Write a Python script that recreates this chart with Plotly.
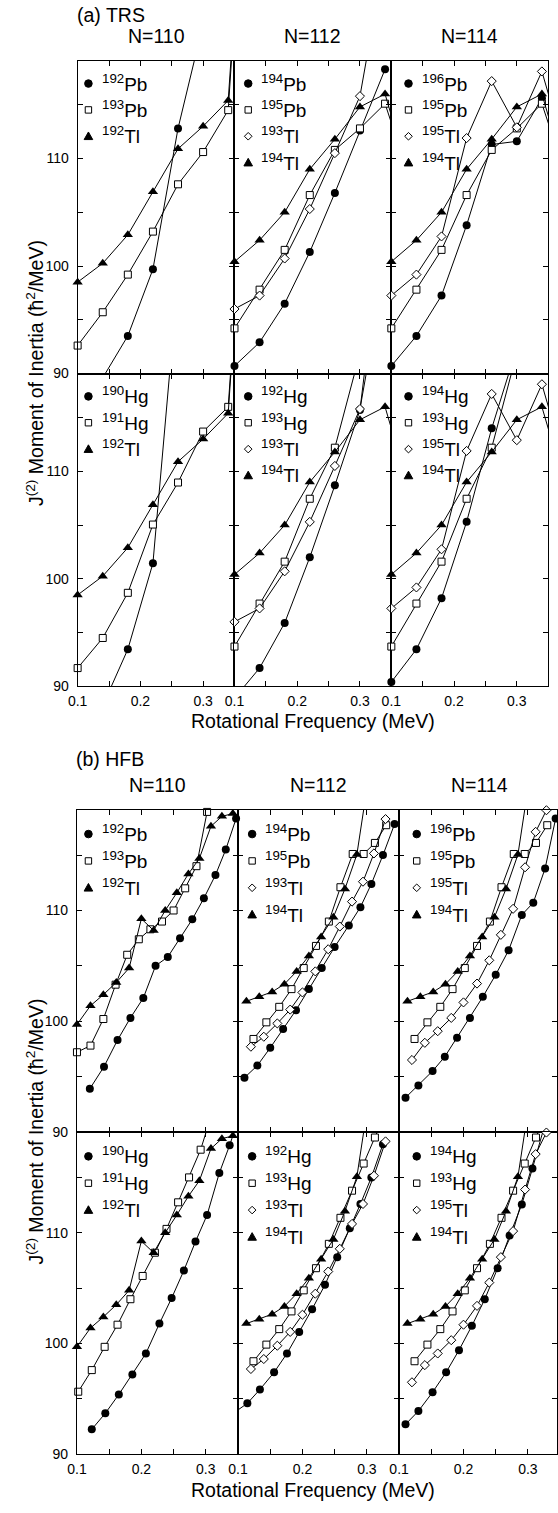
import plotly.graph_objects as go

W, H = 558, 1513
FONT = "Liberation Sans, Arial, Helvetica, sans-serif"

# ---------------- TRS data (rotational frequency grid, MeV) ----------------
TRS_OMEGA = [0.10, 0.14, 0.18, 0.22, 0.26, 0.30, 0.34, 0.38]
TRS_PB192 = [None, 89.6, 93.5, 99.7, 112.8, 122.5, None, None]
TRS_PB193 = [92.6, 95.7, 99.2, 103.2, 107.6, 110.6, 114.5, 150.0]
TRS_TL192 = [98.5, 100.25, 102.9, 106.9, 110.9, 113.0, 115.4, 150.0]
TRS_PB194 = [90.7, 92.9, 96.5, 101.3, 106.8, 112.6, 118.3, None]
TRS_PB195 = [94.2, 97.8, 101.5, 106.6, 110.8, 112.8, 115.1, 108.0]
TRS_TL193 = [96.0, 97.25, 100.7, 105.3, 110.5, 115.8, 129.0, None]
TRS_TL194 = [100.4, 102.4, 105.0, 109.0, 111.8, 114.8, 116.0, 108.0]
TRS_PB196 = [90.7, 93.5, 97.25, 103.8, 111.3, 111.6, 115.6, None]
TRS_TL195 = [97.25, 99.2, 102.75, 111.9, 117.2, 112.9, 118.1, 110.0]
TRS_HG190 = [None, 88.2, 93.45, 101.45, 128.0, None, None, None]
TRS_HG191 = [91.7, 94.5, 98.7, 105.05, 108.96, 113.7, 116.0, 150.0]
TRS_HG192 = [88.9, 91.7, 95.9, 102.0, 108.7, 115.7, 135.0, None]
TRS_HG193 = [93.7, 97.7, 101.6, 107.45, 112.2, 121.0, None, None]
TRS_HG194 = [90.4, 93.45, 98.2, 105.3, 114.0, 121.5, None, None]

# ---------------- HFB data ----------------
HFB_TL192_X = [0.100, 0.121, 0.141, 0.161, 0.181, 0.200, 0.219, 0.237, 0.255, 0.273, 0.290, 0.308, 0.325, 0.342]
HFB_TL192_Y = [99.7, 101.4, 102.4, 103.5, 104.8, 109.25, 108.2, 110.0, 111.6, 113.3, 114.7, 117.6, 118.5, 118.75]
HFB_PB192_X = [0.120, 0.142, 0.163, 0.183, 0.203, 0.222, 0.241, 0.260, 0.279, 0.297, 0.315, 0.331, 0.347]
HFB_PB192_Y = [93.9, 95.9, 98.3, 100.3, 102.1, 105.0, 105.8, 107.5, 109.2, 111.1, 113.2, 115.5, 118.3]
HFB_PB193_X = [0.100, 0.121, 0.141, 0.160, 0.178, 0.196, 0.214, 0.232, 0.250, 0.268, 0.2855, 0.302]
HFB_PB193_Y = [97.2, 97.8, 100.2, 103.3, 106.0, 107.4, 108.3, 109.0, 110.0, 112.0, 114.0, 118.9]
HFB_HG190_X = [0.123, 0.144, 0.165, 0.186, 0.207, 0.228, 0.247, 0.266, 0.284, 0.302, 0.321, 0.337, 0.352]
HFB_HG190_Y = [92.25, 93.7, 95.4, 97.2, 99.1, 101.8, 104.1, 106.6, 109.2, 111.6, 115.4, 117.9, 120.5]
HFB_HG191_X = [0.102, 0.123, 0.143, 0.163, 0.183, 0.202, 0.221, 0.239, 0.257, 0.274, 0.292, 0.308]
HFB_HG191_Y = [95.65, 97.6, 99.7, 101.7, 104.0, 106.1, 108.2, 110.35, 112.75, 115.0, 117.5, 120.5]
HFB_TL194_X = [0.113, 0.133, 0.153, 0.172, 0.191, 0.210, 0.229, 0.248, 0.266, 0.2845, 0.300]
HFB_TL194_Y = [101.8, 102.2, 102.65, 103.35, 104.5, 105.9, 107.6, 109.4, 111.95, 115.05, 121.0]
HFB_PB195_X = [0.124, 0.144, 0.164, 0.183, 0.202, 0.221, 0.241, 0.259, 0.278, 0.295, 0.3125, 0.330]
HFB_PB195_Y = [98.4, 99.9, 101.3, 102.9, 104.8, 106.8, 109.0, 112.1, 115.1, 115.1, 116.1, 117.7]
HFB_TL193_X = [0.120, 0.140, 0.161, 0.181, 0.200, 0.220, 0.240, 0.258, 0.277, 0.294, 0.311, 0.329]
HFB_TL193_Y = [97.7, 98.6, 99.8, 101.05, 102.6, 104.5, 106.5, 108.55, 110.8, 112.6, 115.15, 118.25]
HFB_PB194_X = [0.110, 0.130, 0.150, 0.170, 0.190, 0.210, 0.230, 0.250, 0.272, 0.290, 0.307, 0.325, 0.343]
HFB_PB194_Y = [94.9, 96.0, 97.6, 99.3, 101.0, 102.9, 104.8, 106.7, 108.65, 110.3, 112.4, 115.0, 117.8]
HFB_HG192_X = [0.095, 0.1145, 0.134, 0.156, 0.176, 0.195, 0.215, 0.235, 0.254, 0.2735, 0.290, 0.307, 0.325]
HFB_HG192_Y = [93.8, 94.6, 95.85, 97.4, 99.1, 101.05, 103.1, 105.3, 107.8, 110.4, 112.6, 115.0, 118.0]
HFB_HG193_X = [0.124, 0.144, 0.164, 0.183, 0.202, 0.221, 0.241, 0.259, 0.277, 0.295, 0.3125, 0.330]
HFB_HG193_Y = [98.4, 99.9, 101.3, 102.9, 104.8, 106.8, 109.0, 111.35, 113.8, 116.25, 118.6, 121.0]
HFB_PB196_X = [0.110, 0.130, 0.152, 0.171, 0.190, 0.210, 0.230, 0.250, 0.270, 0.2905, 0.3083, 0.3267, 0.343]
HFB_PB196_Y = [93.1, 94.2, 95.5, 96.8, 98.5, 100.3, 102.2, 104.2, 106.4, 109.6, 110.7, 113.8, 118.3]
HFB_TL195_X = [0.120, 0.140, 0.160, 0.181, 0.200, 0.221, 0.240, 0.258, 0.277, 0.2956, 0.312, 0.3287]
HFB_TL195_Y = [96.5, 98.05, 99.1, 100.3, 101.7, 103.4, 105.5, 107.8, 110.15, 113.9, 117.1, 119.05]
HFB_HG194_X = [0.110, 0.130, 0.152, 0.173, 0.193, 0.213, 0.233, 0.253, 0.2716, 0.2905, 0.307, 0.325]
HFB_HG194_Y = [92.7, 93.9, 95.6, 97.4, 99.4, 101.6, 104.0, 106.8, 109.75, 112.55, 115.8, 119.5]

# ---------------- panel contents ----------------
N_LABELS = ["N=110", "N=112", "N=114"]
FIG_LABELS = {"a": "(a) TRS", "b": "(b) HFB"}

def trs(y):
    return (TRS_OMEGA, y)

PANELS = {
    "a": [
        [[("circle", trs(TRS_PB192), "192", "Pb"), ("square", trs(TRS_PB193), "193", "Pb"), ("triangle", trs(TRS_TL192), "192", "Tl")],
         [("circle", trs(TRS_PB194), "194", "Pb"), ("square", trs(TRS_PB195), "195", "Pb"), ("diamond", trs(TRS_TL193), "193", "Tl"), ("triangle", trs(TRS_TL194), "194", "Tl")],
         [("circle", trs(TRS_PB196), "196", "Pb"), ("square", trs(TRS_PB195), "195", "Pb"), ("diamond", trs(TRS_TL195), "195", "Tl"), ("triangle", trs(TRS_TL194), "194", "Tl")]],
        [[("circle", trs(TRS_HG190), "190", "Hg"), ("square", trs(TRS_HG191), "191", "Hg"), ("triangle", trs(TRS_TL192), "192", "Tl")],
         [("circle", trs(TRS_HG192), "192", "Hg"), ("square", trs(TRS_HG193), "193", "Hg"), ("diamond", trs(TRS_TL193), "193", "Tl"), ("triangle", trs(TRS_TL194), "194", "Tl")],
         [("circle", trs(TRS_HG194), "194", "Hg"), ("square", trs(TRS_HG193), "193", "Hg"), ("diamond", trs(TRS_TL195), "195", "Tl"), ("triangle", trs(TRS_TL194), "194", "Tl")]],
    ],
    "b": [
        [[("circle", (HFB_PB192_X, HFB_PB192_Y), "192", "Pb"), ("square", (HFB_PB193_X, HFB_PB193_Y), "193", "Pb"), ("triangle", (HFB_TL192_X, HFB_TL192_Y), "192", "Tl")],
         [("circle", (HFB_PB194_X, HFB_PB194_Y), "194", "Pb"), ("square", (HFB_PB195_X, HFB_PB195_Y), "195", "Pb"), ("diamond", (HFB_TL193_X, HFB_TL193_Y), "193", "Tl"), ("triangle", (HFB_TL194_X, HFB_TL194_Y), "194", "Tl")],
         [("circle", (HFB_PB196_X, HFB_PB196_Y), "196", "Pb"), ("square", (HFB_PB195_X, HFB_PB195_Y), "195", "Pb"), ("diamond", (HFB_TL195_X, HFB_TL195_Y), "195", "Tl"), ("triangle", (HFB_TL194_X, HFB_TL194_Y), "194", "Tl")]],
        [[("circle", (HFB_HG190_X, HFB_HG190_Y), "190", "Hg"), ("square", (HFB_HG191_X, HFB_HG191_Y), "191", "Hg"), ("triangle", (HFB_TL192_X, HFB_TL192_Y), "192", "Tl")],
         [("circle", (HFB_HG192_X, HFB_HG192_Y), "192", "Hg"), ("square", (HFB_HG193_X, HFB_HG193_Y), "193", "Hg"), ("diamond", (HFB_TL193_X, HFB_TL193_Y), "193", "Tl"), ("triangle", (HFB_TL194_X, HFB_TL194_Y), "194", "Tl")],
         [("circle", (HFB_HG194_X, HFB_HG194_Y), "194", "Hg"), ("square", (HFB_HG193_X, HFB_HG193_Y), "193", "Hg"), ("diamond", (HFB_TL195_X, HFB_TL195_Y), "195", "Tl"), ("triangle", (HFB_TL194_X, HFB_TL194_Y), "194", "Tl")]],
    ],
}

X_TICKS = [0.10, 0.15, 0.20, 0.25, 0.30, 0.35]
X_TICKTEXT = ["0.1", "", "0.2", "", "0.3", ""]
Y_TICKS = [90, 95, 100, 105, 110, 115]
Y_TICKTEXT = ["90", "", "100", "", "110", ""]
Y_RANGE = [90.0, 119.1]
X_MIN, X_SPAN = 0.10, 0.25

# ---------------- layout geometry (pixels) ----------------
GEOM = {
    "a": dict(left=69.0, width=160.0, top=61.0, rowh=314.5, key_first=23.0, key_step=26.5,
              key_dx=[11.0, 14.0, 17.5], title_y=15.0, n_y=36.0, xtitle_y=725.0),
    "b": dict(left=68.3, width=164.3, top=814.0, rowh=324.0, key_first=24.5, key_step=27.0,
              key_dx=[11.7, 14.4, 18.0], title_y=763.0, n_y=789.0, xtitle_y=1498.0),
}

MARKERS = {
    "circle": dict(symbol="circle", size=8, color="black", line=dict(width=0)),
    "square": dict(symbol="square", size=7, color="white", line=dict(color="black", width=1)),
    "diamond": dict(symbol="diamond", size=7, color="white", line=dict(color="black", width=1)),
    "triangle": dict(symbol="triangle-up", size=9, color="black", line=dict(width=0)),
}

TITLE_SIZE = 19.5
KEY_SIZE = 19
TICK_SIZE = 14


def px_x(px):
    return px / W


def px_y(py):
    return 1.0 - py / H


fig = go.Figure()
layout_axes = {}
annotations = []
shapes = []
k = 0
for fk in ["a", "b"]:
    g = GEOM[fk]
    annotations.append(dict(text=FIG_LABELS[fk], x=px_x(g["left"] - 3), y=px_y(g["title_y"]), xref="paper", yref="paper",
                            xanchor="left", yanchor="middle", showarrow=False,
                            font=dict(size=TITLE_SIZE, family=FONT, color="black")))
    for r in range(2):
        for c in range(3):
            k += 1
            l = g["left"] + c * g["width"]
            rgt = l + g["width"]
            rgt_vis = min(rgt, W)
            top = g["top"] + r * g["rowh"]
            bot = top + g["rowh"]
            xmax = X_MIN + X_SPAN * (rgt_vis - l) / g["width"]
            xa = "xaxis" if k == 1 else f"xaxis{k}"
            ya = "yaxis" if k == 1 else f"yaxis{k}"
            xref = "x" if k == 1 else f"x{k}"
            yref = "y" if k == 1 else f"y{k}"
            layout_axes[xa] = dict(domain=[px_x(l), px_x(rgt_vis)], range=[X_MIN, xmax], anchor=yref,
                                   showline=True, linecolor="black", linewidth=1, mirror="ticks",
                                   ticks="inside", ticklen=5, tickwidth=1, tickcolor="black",
                                   tickvals=X_TICKS, ticktext=X_TICKTEXT, showticklabels=(r == 1),
                                   tickfont=dict(size=TICK_SIZE, family=FONT, color="black"), ticklabelstandoff=2,
                                   showgrid=False, zeroline=False, fixedrange=True)
            layout_axes[ya] = dict(domain=[px_y(bot), px_y(top)], range=Y_RANGE, anchor=xref,
                                   showline=True, linecolor="black", linewidth=1, mirror="ticks",
                                   ticks="inside", ticklen=5, tickwidth=1, tickcolor="black",
                                   tickvals=Y_TICKS, ticktext=Y_TICKTEXT, showticklabels=(c == 0),
                                   tickfont=dict(size=TICK_SIZE, family=FONT, color="black"), ticklabelstandoff=5,
                                   showgrid=False, zeroline=False, fixedrange=True)
            if r == 0:
                annotations.append(dict(text=N_LABELS[c], x=px_x((l + rgt) / 2), y=px_y(g["n_y"]), xref="paper", yref="paper",
                                        xanchor="center", yanchor="middle", showarrow=False,
                                        font=dict(size=TITLE_SIZE, family=FONT, color="black")))
            series = PANELS[fk][r][c]
            for (kind, (xs, ys), num, elem) in series:
                fig.add_trace(go.Scatter(x=xs, y=ys, mode="lines", line=dict(color="black", width=1),
                                         xaxis=xref, yaxis=yref, showlegend=False, hoverinfo="skip"))
                keep = [(x, y) for x, y in zip(xs, ys)
                        if y is not None and X_MIN - 1e-6 <= x <= X_MIN + X_SPAN + 1e-6
                        and Y_RANGE[0] - 0.2 <= y <= Y_RANGE[1] + 0.2]
                fig.add_trace(go.Scatter(x=[p[0] for p in keep], y=[p[1] for p in keep], mode="markers",
                                         marker=MARKERS[kind], cliponaxis=False,
                                         xaxis=xref, yaxis=yref, showlegend=False, hoverinfo="skip"))
            # panel key
            for i, (kind, _, num, elem) in enumerate(series):
                cx = l + g["key_dx"][c]
                cy = top + g["key_first"] + i * g["key_step"]
                base = dict(xref="paper", yref="paper", xsizemode="pixel", ysizemode="pixel",
                            xanchor=px_x(cx), yanchor=px_y(cy), line=dict(color="black", width=1))
                if kind == "circle":
                    shapes.append(dict(type="circle", x0=-3.8, x1=3.8, y0=-3.8, y1=3.8, fillcolor="black", **base))
                elif kind == "square":
                    shapes.append(dict(type="rect", x0=-3.2, x1=3.2, y0=-3.2, y1=3.2, fillcolor="white", **base))
                elif kind == "diamond":
                    shapes.append(dict(type="path", path="M 0 3.8 L 3.8 0 L 0 -3.8 L -3.8 0 Z", fillcolor="white", **base))
                else:
                    shapes.append(dict(type="path", path="M -4.3 -3.3 L 4.3 -3.3 L 0 4.3 Z", fillcolor="black", **base))
                annotations.append(dict(text=f"<sup>{num}</sup>{elem}", x=px_x(cx + 11.5), y=px_y(cy - 1), xref="paper", yref="paper",
                                        xanchor="left", yanchor="middle", showarrow=False,
                                        font=dict(size=KEY_SIZE, family=FONT, color="black")))
    # axis titles
    ytitle_center = g["top"] + g["rowh"]
    annotations.append(dict(text="J<sup>(2)</sup> Moment of Inertia (ħ<sup>2</sup>/MeV)", x=px_x(25), y=px_y(ytitle_center),
                            xref="paper", yref="paper", xanchor="center", yanchor="middle", textangle=-90,
                            showarrow=False, font=dict(size=TITLE_SIZE, family=FONT, color="black")))
    annotations.append(dict(text="Rotational Frequency (MeV)", x=px_x(309), y=px_y(g["xtitle_y"]),
                            xref="paper", yref="paper", xanchor="center", yanchor="middle",
                            showarrow=False, font=dict(size=TITLE_SIZE, family=FONT, color="black")))

fig.update_layout(width=W, height=H, margin=dict(l=0, r=0, t=0, b=0), paper_bgcolor="white", plot_bgcolor="white",
                  showlegend=False, annotations=annotations, shapes=shapes, font=dict(family=FONT, color="black"),
                  **layout_axes)
fig.write_html("out.html", config={"displayModeBar": False})
